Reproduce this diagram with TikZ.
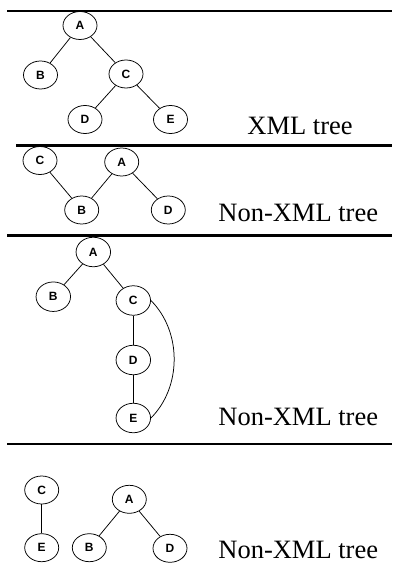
\documentclass[tikz,border=0pt]{standalone}
\usepackage{fontspec}
\setmainfont{Liberation Serif}
\newfontfamily\nodefont{Liberation Sans}
\usetikzlibrary{shapes.geometric}

\tikzset{every picture/.style={line width=0.75pt}}
\tikzset{
  treenode/.style={draw, ellipse, inner sep=0pt, minimum width=34pt, minimum height=28pt, font=\nodefont\bfseries\fontsize{12}{12}\selectfont},
  bignode/.style={treenode, minimum width=34.5pt, minimum height=29.5pt},
  treelabel/.style={anchor=base west, inner sep=0pt, font=\fontsize{26.5}{30}\selectfont},
  rule/.style={line width=2.3pt}
}

\begin{document}
\begin{tikzpicture}[x=1pt,y=1pt,yscale=-1,xscale=1]
\path[use as bounding box] (0,0) rectangle (392,572);

%Straight Lines
\draw [rule] (7,11.3) -- (392,11.3) ;
\draw [rule] (16,145.4) -- (392,145.4) ;
\draw [rule] (7,235.4) -- (392,235.4) ;
\draw [rule] (7,444) -- (392,444) ;

%XML tree
\node [treenode] (a1) at (80,25.5) {A};
\node [treenode] (b1) at (40.5,75) {B};
\node [treenode] (c1) at (126,74) {C};
\node [treenode] (d1) at (85,119.5) {D};
\node [treenode] (e1) at (170.5,119.5) {E};
\draw (a1) -- (b1) ;
\draw (a1) -- (c1) ;
\draw (c1) -- (d1) ;
\draw (c1) -- (e1) ;
% Text Node
\node [treelabel] (l1) at (247,135) {XML tree};

%Non-XML tree, two roots
\node [treenode] (c2) at (40,160.5) {C};
\node [treenode] (a2) at (121.7,162) {A};
\node [treenode] (b2) at (81.7,210) {B};
\node [treenode] (d2) at (168.3,210) {D};
\draw (c2) -- (b2) ;
\draw (a2) -- (b2) ;
\draw (a2) -- (d2) ;
% Text Node
\node [treelabel] (l2) at (218,221.7) {Non-XML tree};

%Non-XML tree, cycle
\node [bignode] (a3) at (93.3,252) {A};
\node [bignode] (b3) at (53.3,296.7) {B};
\node [bignode] (c3) at (133.3,300.5) {C};
\node [bignode] (d3) at (133.3,360) {D};
\node [bignode] (e3) at (133.3,418) {E};
\draw (a3) -- (b3) ;
\draw (a3) -- (c3) ;
\draw (c3) -- (d3) ;
\draw (d3) -- (e3) ;
\draw (c3.east) .. controls +(31,31) and +(31,-31) .. (e3.east) ;
% Text Node
\node [treelabel] (l3) at (218,425) {Non-XML tree};

%Non-XML tree, forest
\node [treenode] (c4) at (41.7,490) {C};
\node [treenode] (e4) at (41.7,547.7) {E};
\node [treenode] (a4) at (129.3,499.3) {A};
\node [treenode] (b4) at (89.3,547.7) {B};
\node [treenode] (d4) at (170,548.3) {D};
\draw (c4) -- (e4) ;
\draw (a4) -- (b4) ;
\draw (a4) -- (d4) ;
% Text Node
\node [treelabel] (l4) at (218,558.3) {Non-XML tree};

\end{tikzpicture}
\end{document}
